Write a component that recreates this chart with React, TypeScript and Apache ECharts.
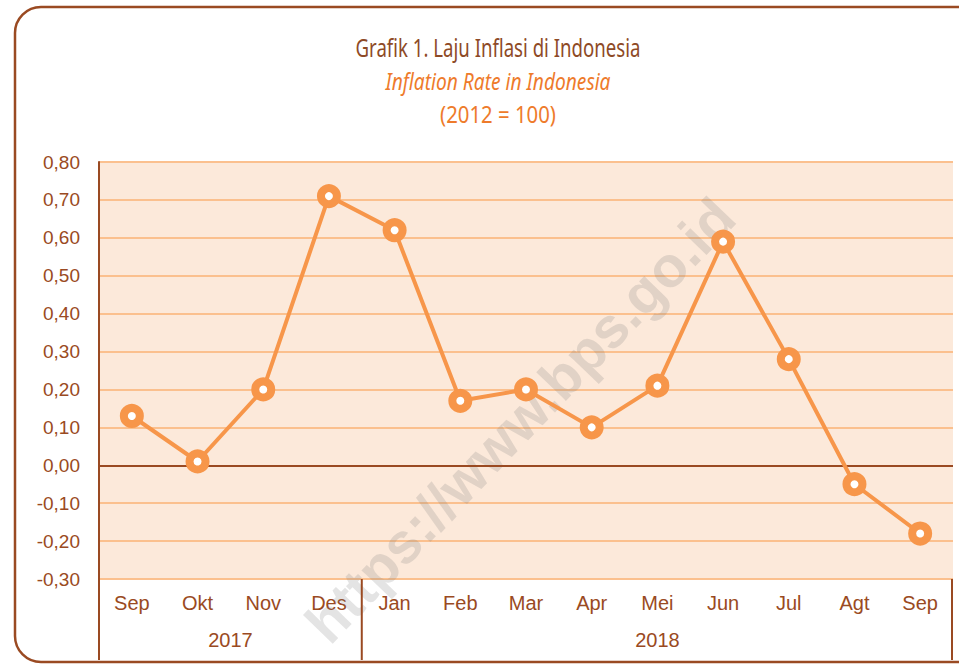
import React, { useEffect, useRef } from "react";
import * as echarts from "echarts";

const months = ["Sep", "Okt", "Nov", "Des", "Jan", "Feb", "Mar", "Apr", "Mei", "Jun", "Jul", "Agt", "Sep"];
const inflation = [0.13, 0.01, 0.2, 0.71, 0.62, 0.17, 0.2, 0.1, 0.21, 0.59, 0.28, -0.05, -0.18];
const years = ["2017", "2018"];
const yearSpans = [[0, 3], [4, 12]];
const titleLines = ["Grafik 1. Laju Inflasi di Indonesia", "Inflation Rate in Indonesia", "(2012 = 100)"];

const BROWN = "#9A4A22";
const ORANGE = "#F7964A";
const LABEL_FONT = "Liberation Sans, Arial, sans-serif";

function measure(text: string, font: string): number {
  const c = document.createElement("canvas").getContext("2d");
  if (!c) return 1;
  c.font = font;
  return c.measureText(text).width;
}

export default function App() {
  const ref = useRef<HTMLDivElement>(null);
  useEffect(() => {
    if (!ref.current) return;
    const chart = echarts.init(ref.current, null, { renderer: "svg" });
    const option: any = {
      animation: false,
      backgroundColor: "#ffffff",
      grid: {
        left: 99,
        right: 6,
        top: 162,
        bottom: 86,
        show: true,
        backgroundColor: "#FCE9DA",
        borderWidth: 0,
      },
      xAxis: {
        type: "category",
        data: months,
        boundaryGap: true,
        axisLine: { show: false },
        axisTick: { show: false },
        axisLabel: { color: BROWN, fontSize: 20, fontFamily: LABEL_FONT, margin: 14 },
      },
      yAxis: {
        type: "value",
        min: -0.3,
        max: 0.8,
        interval: 0.1,
        axisLine: { show: true, lineStyle: { color: BROWN, width: 2 } },
        axisTick: { show: false },
        splitLine: { lineStyle: { color: "#FBC08E", width: 2 } },
        axisLabel: {
          color: BROWN,
          fontSize: 19,
          fontFamily: LABEL_FONT,
          margin: 19,
          formatter: (v: number) => {
            const r = Math.round(v * 100) / 100;
            return (Math.abs(r) < 1e-9 ? 0 : r).toFixed(2).replace(".", ",");
          },
        },
      },
      series: [
        {
          type: "line",
          data: inflation,
          z: 5,
          lineStyle: { color: ORANGE, width: 4 },
          symbol: "circle",
          symbolSize: 16,
          itemStyle: { color: "#ffffff", borderColor: ORANGE, borderWidth: 8 },
          markLine: {
            silent: true,
            symbol: "none",
            label: { show: false },
            lineStyle: { color: BROWN, width: 2, type: "solid" },
            data: [{ yAxis: 0 }],
            z: 3,
          },
        },
      ],
    };
    chart.setOption(option);

    const graphics: any[] = [];
    graphics.push({
      type: "rect",
      shape: { x: 15, y: 7, width: 1000, height: 655, r: 26 },
      style: { fill: "none", stroke: BROWN, lineWidth: 2.5 },
      silent: true,
      z: 0,
    });
    const titleSpecs = [
      { font: "25px Noto Sans", family: "Noto Sans", size: 25, style: "normal", color: "#8E4A26", y: 47, w: 285 },
      { font: "italic 23px Noto Sans", family: "Noto Sans", size: 23, style: "italic", color: "#EE7B2B", y: 81, w: 225 },
      { font: "23px Noto Sans", family: "Noto Sans", size: 23, style: "normal", color: "#EE7B2B", y: 114, w: 116 },
    ];
    titleLines.forEach((t, i) => {
      const s = titleSpecs[i];
      const tw = measure(t, s.font);
      graphics.push({
        type: "text",
        x: 498,
        y: s.y,
        scaleX: s.w / tw,
        style: {
          text: t,
          fill: s.color,
          fontFamily: s.family,
          fontSize: s.size,
          fontStyle: s.style,
          align: "center",
          verticalAlign: "middle",
        },
        silent: true,
      });
    });
    // watermark
    graphics.push({
      type: "text",
      x: 520,
      y: 420,
      rotation: Math.PI / 4 + 0.02,
      style: {
        text: "https://www.bps.go.id",
        fill: "rgba(120,120,120,0.2)",
        font: "bold 57px Liberation Sans, Arial, sans-serif",
        align: "center",
        verticalAlign: "middle",
      },
      silent: true,
      z: 1,
    });
    const y0 = chart.convertToPixel({ yAxisIndex: 0 }, -0.3) as number;
    const step = (chart.convertToPixel({ xAxisIndex: 0 }, 1) as number) - (chart.convertToPixel({ xAxisIndex: 0 }, 0) as number);
    const xs = months.map((_, i) => chart.convertToPixel({ xAxisIndex: 0 }, i) as number);
    const sepX = [xs[0] - step / 2, xs[4] - step / 2, xs[12] + step / 2 - 1];
    sepX.forEach((x) => {
      graphics.push({
        type: "line",
        shape: { x1: x, y1: y0, x2: x, y2: y0 + 81 },
        style: { stroke: BROWN, lineWidth: 2 },
        silent: true,
        z: 2,
      });
    });
    years.forEach((yr, k) => {
      const [a, b] = yearSpans[k];
      graphics.push({
        type: "text",
        x: (xs[a] + xs[b]) / 2,
        y: y0 + 61,
        style: {
          text: yr,
          fill: BROWN,
          font: "20px Liberation Sans, Arial, sans-serif",
          align: "center",
          verticalAlign: "middle",
        },
        silent: true,
      });
    });
    chart.setOption({ graphic: graphics });
    return () => chart.dispose();
  }, []);
  return <div ref={ref} style={{ position: "fixed", left: 0, top: 0, width: 959, height: 665 }} />;
}
